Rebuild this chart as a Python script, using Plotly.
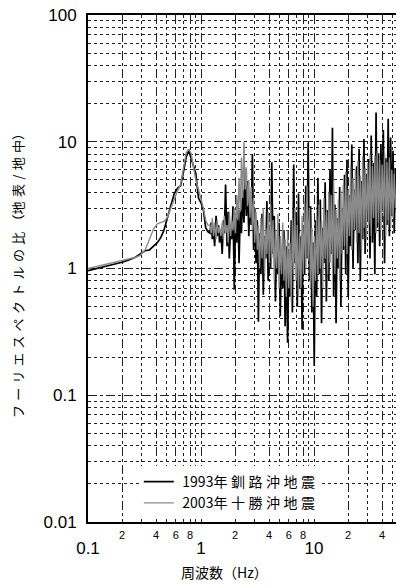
import plotly.graph_objects as go

# Frequency (Hz): smooth low band, then the dense band above 1.2 Hz
freq_low = [0.10, 0.12, 0.14, 0.16, 0.18, 0.20, 0.23, 0.26, 0.29, 0.32,
            0.35, 0.38, 0.41, 0.44, 0.47, 0.50, 0.54, 0.58, 0.62, 0.66,
            0.70, 0.74, 0.78, 0.82, 0.86, 0.90, 0.95, 1.00, 1.05, 1.10, 1.15]
freq_high = [1.20, 1.23, 1.26, 1.29, 1.32, 1.36, 1.39, 1.43, 1.46, 1.50,
             1.54, 1.58, 1.61, 1.65, 1.70, 1.74, 1.78, 1.83, 1.87, 1.92,
             1.97, 2.02, 2.07, 2.12, 2.17, 2.23, 2.28, 2.34, 2.40, 2.46,
             2.52, 2.58, 2.65, 2.71, 2.78, 2.85, 2.92, 2.99, 3.07, 3.15,
             3.22, 3.30, 3.39, 3.47, 3.56, 3.65, 3.74, 3.83, 3.93, 4.03,
             4.13, 4.23, 4.34, 4.45, 4.56, 4.67, 4.79, 4.91, 5.03, 5.16,
             5.29, 5.42, 5.55, 5.69, 5.84, 5.98, 6.13, 6.29, 6.44, 6.61,
             6.77, 6.94, 7.11, 7.29, 7.47, 7.66, 7.85, 8.05, 8.25, 8.46,
             8.67, 8.88, 9.11, 9.33, 9.57, 9.81, 10.05, 10.30, 10.56, 10.82,
             11.09, 11.37, 11.66, 11.95, 12.25, 12.55, 12.87, 13.19, 13.52, 13.86,
             14.20, 14.56, 14.92, 15.30, 15.68, 16.07, 16.47, 16.88, 17.31, 17.74,
             18.18, 18.64, 19.10, 19.58, 20.07, 20.57, 21.09, 21.61, 22.15, 22.71,
             23.27, 23.86, 24.45, 25.06, 25.69, 26.33, 26.99, 27.67, 28.36, 29.07,
             29.79, 30.54, 31.30, 32.08, 32.89, 33.71, 34.55, 35.42, 36.30, 37.21,
             38.14, 39.09, 40.07, 41.07, 42.10, 43.15, 44.23, 45.34, 46.47, 47.63,
             48.82, 50.04, 51.29, 52.57]

# Spectral ratio (surface / borehole), 1993 Kushiro-oki earthquake
ratio_1993_low = [0.96, 1.00, 1.03, 1.06, 1.09, 1.12, 1.17, 1.22, 1.30, 1.38,
                  1.40, 1.50, 1.60, 1.75, 2.00, 2.45, 3.20, 3.90, 4.30, 4.50,
                  5.80, 7.60, 8.50, 7.20, 6.40, 5.60, 3.60, 3.30, 2.90, 2.10, 1.95]
ratio_1993_high = [1.9, 2.3, 1.7, 2.1, 1.5, 2.6, 1.8, 2.2, 1.6, 2.0,
                   1.3, 2.4, 1.9, 4.6, 1.5, 2.8, 1.2, 2.2, 1.7, 3.1,
                   0.68, 2.5, 1.6, 3.4, 1.1, 2.9, 1.9, 4.2, 2.3, 5.8,
                   2.6, 4.9, 1.8, 3.6, 2.2, 7.9, 1.4, 3.0, 1.1, 2.4,
                   0.38, 1.9, 0.9, 2.7, 0.62, 1.8, 1.2, 3.4, 0.8, 2.1,
                   1.0, 6.9, 1.3, 2.6, 0.55, 1.6, 0.9, 2.3, 0.42, 1.4,
                   0.7, 2.0, 0.35, 1.5, 0.26, 1.1, 0.6, 2.4, 0.45, 6.6,
                   1.1, 2.8, 0.5, 3.9, 0.7, 1.8, 0.33, 2.2, 0.9, 4.5,
                   1.2, 9.8, 0.8, 3.1, 0.45, 1.6, 0.17, 2.4, 0.6, 5.2,
                   0.9, 3.5, 0.37, 2.1, 1.1, 4.8, 0.55, 2.9, 0.8, 6.1,
                   1.3, 12.9, 0.6, 3.2, 0.37, 2.5, 1.0, 4.4, 0.5, 3.0,
                   1.4, 5.5, 0.9, 7.2, 0.6, 3.8, 1.5, 9.5, 1.0, 4.2,
                   2.0, 6.4, 1.1, 8.8, 0.8, 4.9, 1.7, 10.5, 1.3, 5.6,
                   2.4, 7.3, 1.2, 11.2, 1.6, 6.8, 0.9, 17.0, 2.1, 8.1,
                   1.5, 9.6, 2.8, 12.4, 1.1, 7.4, 2.2, 15.2, 1.8, 10.8,
                   2.6, 8.5, 1.9, 6.2]

# Spectral ratio (surface / borehole), 2003 Tokachi-oki earthquake
ratio_2003_low = [1.00, 1.04, 1.07, 1.10, 1.13, 1.15, 1.18, 1.22, 1.27, 1.40,
                  1.70, 2.05, 2.25, 2.30, 2.35, 2.50, 3.00, 3.60, 4.10, 4.60,
                  6.00, 8.20, 8.80, 8.00, 6.20, 5.00, 4.20, 3.60, 3.00, 2.40, 2.20]
ratio_2003_high = [2.2, 1.9, 2.5, 1.8, 2.3, 1.7, 2.4, 1.9, 2.1, 1.8,
                   2.3, 1.7, 2.6, 1.9, 2.2, 1.6, 2.8, 1.8, 2.4, 2.0,
                   3.0, 1.9, 3.8, 2.4, 5.2, 2.8, 7.5, 3.6, 10.0, 4.2,
                   6.3, 3.1, 5.0, 2.5, 4.4, 2.0, 3.6, 1.6, 2.8, 1.4,
                   2.2, 1.0, 2.5, 1.2, 3.0, 0.9, 2.1, 1.3, 2.8, 1.1,
                   3.2, 1.2, 2.4, 0.8, 2.0, 1.0, 2.7, 0.7, 1.8, 0.9,
                   2.3, 0.8, 1.7, 0.6, 2.0, 0.7, 1.6, 0.55, 2.5, 0.9,
                   3.0, 0.8, 2.2, 0.6, 1.9, 0.7, 2.6, 0.9, 3.4, 1.0,
                   4.5, 1.2, 3.0, 0.7, 2.1, 0.5, 1.8, 0.8, 2.6, 0.9,
                   3.2, 1.0, 2.4, 0.7, 3.6, 1.2, 2.8, 0.9, 4.0, 1.1,
                   3.8, 1.0, 5.0, 0.9, 2.9, 1.2, 3.5, 0.8, 4.1, 1.3,
                   4.6, 1.5, 5.8, 1.3, 4.2, 1.8, 6.4, 1.4, 5.2, 2.0,
                   6.0, 1.6, 7.0, 1.9, 5.4, 1.4, 7.6, 2.1, 6.2, 1.7,
                   6.8, 2.2, 8.0, 1.8, 6.4, 2.5, 7.8, 1.9, 8.5, 2.3,
                   7.2, 2.0, 6.6, 2.6, 8.2, 1.8, 6.9, 2.4, 7.5, 2.1,
                   6.0, 2.5, 5.6, 3.0]

x_tick_vals = [0.1, 0.2, 0.4, 0.6, 0.8, 1, 2, 4, 6, 8, 10, 20, 40]
x_tick_text = ["0.1", "2", "4", "6", "8", "1", "2", "4", "6", "8", "10", "2", "4"]
y_tick_vals = [0.01, 0.1, 1, 10, 100]
y_tick_text = ["0.01", "0.1", "1", "10", "100"]

series_names = ["1993年釧路沖地震", "2003年十勝沖地震"]

NUM_FONT = "Liberation Sans Narrow, Arial Narrow, Liberation Sans, sans-serif"
JP_FONT = "Noto Sans CJK JP, sans-serif"
SP = "\u2005"  # four-per-em space for the loosely set kanji


def spaced(name):
    # the year stays tight; the kanji after it are set a little apart
    head, tail = name[:5], name[5:]
    return SP + head + SP + SP.join(tail)


freq = freq_low + freq_high
r1993 = ratio_1993_low + ratio_1993_high
r2003 = ratio_2003_low + ratio_2003_high
assert len(freq) == len(r1993) == len(r2003)

fig = go.Figure()
fig.add_trace(go.Scatter(x=freq, y=r1993, mode="lines", name=spaced(series_names[0]),
                         line=dict(color="#000000", width=1.7)))
fig.add_trace(go.Scatter(x=freq, y=r2003, mode="lines", name=spaced(series_names[1]),
                         line=dict(color="#8a8a8a", width=1.4)))

# decade labels sit one line below the 2-4-6-8 labels
tick_text = []
for t in x_tick_text:
    if t in ("0.1", "1", "10"):
        tick_text.append("<br><span style='font-size:17px'>%s</span>" % t)
    else:
        tick_text.append(t)

grid_minor = dict(gridcolor="#222222", gridwidth=1, griddash="dot")

fig.update_xaxes(type="log", range=[-1, 1.7257], tickmode="array",
                 tickvals=x_tick_vals, ticktext=tick_text, tickangle=0,
                 tickfont=dict(family=NUM_FONT, size=11, color="#000"),
                 ticks="", showline=True, linecolor="#000", linewidth=2,
                 mirror=True, showgrid=True, zeroline=False,
                 gridcolor="#222222", gridwidth=1, griddash="dash",
                 minor=dict(dtick="D1", showgrid=True, ticks="", **grid_minor),
                 ticklabelstandoff=2)
fig.update_yaxes(type="log", range=[-2, 2], tickmode="array",
                 tickvals=y_tick_vals, ticktext=y_tick_text,
                 tickfont=dict(family=NUM_FONT, size=17, color="#000"),
                 ticks="", showline=True, linecolor="#000", linewidth=2,
                 mirror=False, showgrid=True, zeroline=False,
                 gridcolor="#222222", gridwidth=1, griddash="dash",
                 minor=dict(dtick="D1", showgrid=True, ticks="", **grid_minor),
                 ticklabelstandoff=6)

fig.update_layout(
    width=396, height=586,
    margin=dict(l=88, r=0, t=15, b=64),
    paper_bgcolor="#ffffff", plot_bgcolor="#ffffff",
    showlegend=True,
    legend=dict(x=0.165, y=0.058, xanchor="left", yanchor="middle",
                bgcolor="#ffffff", borderwidth=0, tracegroupgap=0,
                itemclick=False, font=dict(family=JP_FONT, size=14, color="#000")),
    annotations=[
        dict(text="周波数（Hz）", xref="paper", yref="paper", x=0.4416, y=-0.0986,
             xanchor="center", yanchor="middle", showarrow=False,
             font=dict(family=JP_FONT, size=14, color="#000")),
        dict(text="フ\u2004ー\u2004リ\u2004エ\u2004ス\u2004ペ\u2004ク\u2004ト\u2004ル\u2004の\u2004比\u2004（地\u2004表\u2004/\u2004地\u2004中）",
             xref="paper", yref="paper", x=-0.2305, y=0.491, textangle=-90,
             xanchor="center", yanchor="middle", showarrow=False,
             font=dict(family=JP_FONT, size=13, color="#000")),
    ],
)

fig.write_html("out.html")
